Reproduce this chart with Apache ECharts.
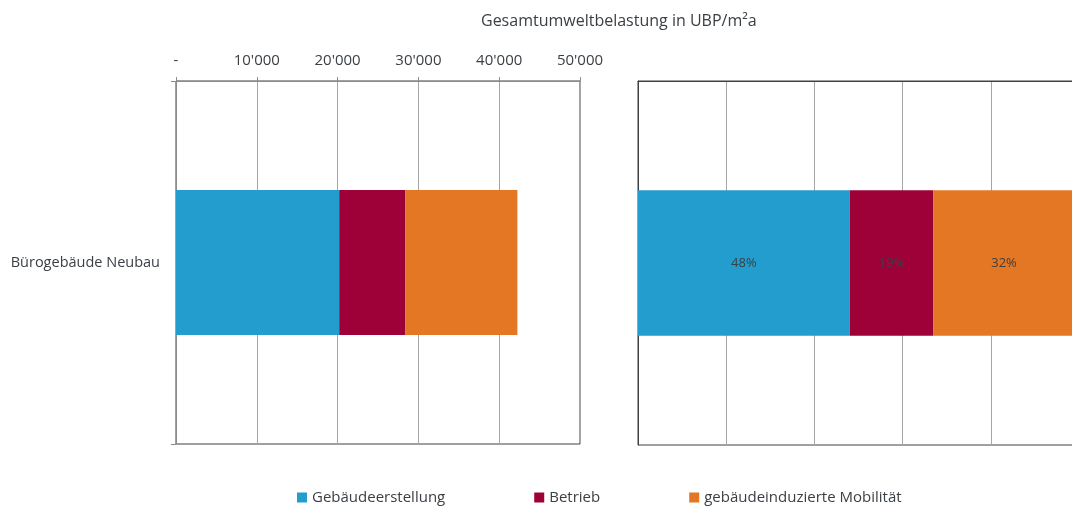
<!DOCTYPE html>
<html>
<head>
<meta charset="utf-8">
<title>Gesamtumweltbelastung</title>
<script src="https://cdn.jsdelivr.net/npm/echarts@6/dist/echarts.min.js"></script>
<style>
  html, body { margin: 0; padding: 0; background: #fff; }
  #chart { width: 1072px; height: 506px; }
</style>
</head>
<body>
<div id="chart"></div>
<script>
// Daten
var categories = ['Bürogebäude Neubau'];
var seriesNames = ['Gebäudeerstellung', 'Betrieb', 'gebäudeinduzierte Mobilität'];
var colors = ['#239dcd', '#9e0038', '#e37724'];
// UBP/m2a, links
var absValues = [20200, 8200, 13850];
// Anteile in %, rechts
var shareValues = [48, 19, 32];

var textColor = '#3b4045';
var font = 'Open Sans';

// 10000 -> 10'000, 0 -> -
function fmt(v) {
  if (v === 0) return '-';
  return String(v).replace(/\B(?=(\d{3})+(?!\d))/g, "'");
}

var myChart = echarts.init(document.getElementById('chart'));

var series = [];
seriesNames.forEach(function (name, i) {
  // linke Grafik: absolute Werte
  series.push({
    name: name,
    type: 'bar',
    stack: 'abs',
    xAxisIndex: 0,
    yAxisIndex: 0,
    barWidth: '40%',
    itemStyle: { color: colors[i] },
    data: [absValues[i]]
  });
  // rechte Grafik: Anteile
  series.push({
    name: name,
    type: 'bar',
    stack: 'share',
    xAxisIndex: 1,
    yAxisIndex: 1,
    barWidth: '40%',
    itemStyle: { color: colors[i] },
    label: {
      show: true,
      position: 'inside',
      formatter: '{c}%',
      color: textColor,
      fontFamily: font,
      fontSize: 13
    },
    data: [shareValues[i]]
  });
});

var option = {
  animation: false,
  title: {
    text: 'Gesamtumweltbelastung in UBP/m²a',
    left: 476,
    top: 8,
    textStyle: { color: textColor, fontFamily: font, fontSize: 16, fontWeight: 'normal' }
  },
  legend: {
    left: 297,
    top: 490,
    padding: 0,
    icon: 'rect',
    itemWidth: 10,
    itemHeight: 10,
    itemGap: 89,
    textStyle: { color: textColor, fontFamily: font, fontSize: 15 },
    data: seriesNames
  },
  grid: [
    { left: 176, right: 492, top: 81, bottom: 62, outerBoundsMode: 'none', show: true, borderColor: '#404040', borderWidth: 1 },
    // rechte Grafik ragt über den Rand hinaus
    { left: 638, width: 441, top: 81, bottom: 61, outerBoundsMode: 'none', show: true, borderColor: '#404040', borderWidth: 1 }
  ],
  xAxis: [
    {
      gridIndex: 0,
      type: 'value',
      position: 'top',
      min: 0,
      max: 50000,
      interval: 10000,
      axisLine: { show: true, lineStyle: { color: '#8c8c8c' } },
      axisTick: { show: true, length: 4, lineStyle: { color: '#8c8c8c' } },
      axisLabel: { formatter: fmt, color: textColor, fontFamily: font, fontSize: 15, margin: 13 },
      splitLine: { show: true, lineStyle: { color: '#a6a6a6' } }
    },
    {
      gridIndex: 1,
      type: 'value',
      position: 'top',
      min: 0,
      max: 100,
      interval: 20,
      axisLine: { show: true, lineStyle: { color: '#404040' } },
      axisTick: { show: false },
      axisLabel: { show: false },
      splitLine: { show: true, lineStyle: { color: '#a6a6a6' } }
    }
  ],
  yAxis: [
    {
      gridIndex: 0,
      type: 'category',
      data: categories,
      axisLine: { show: true, lineStyle: { color: '#8c8c8c' } },
      axisTick: { show: true, length: 5, lineStyle: { color: '#8c8c8c' } },
      axisLabel: { color: textColor, fontFamily: font, fontSize: 14.5, margin: 16 }
    },
    {
      gridIndex: 1,
      type: 'category',
      data: categories,
      axisLine: { show: true, lineStyle: { color: '#404040' } },
      axisTick: { show: false },
      axisLabel: { show: false }
    }
  ],
  series: series
};

myChart.setOption(option);
</script>
</body>
</html>
